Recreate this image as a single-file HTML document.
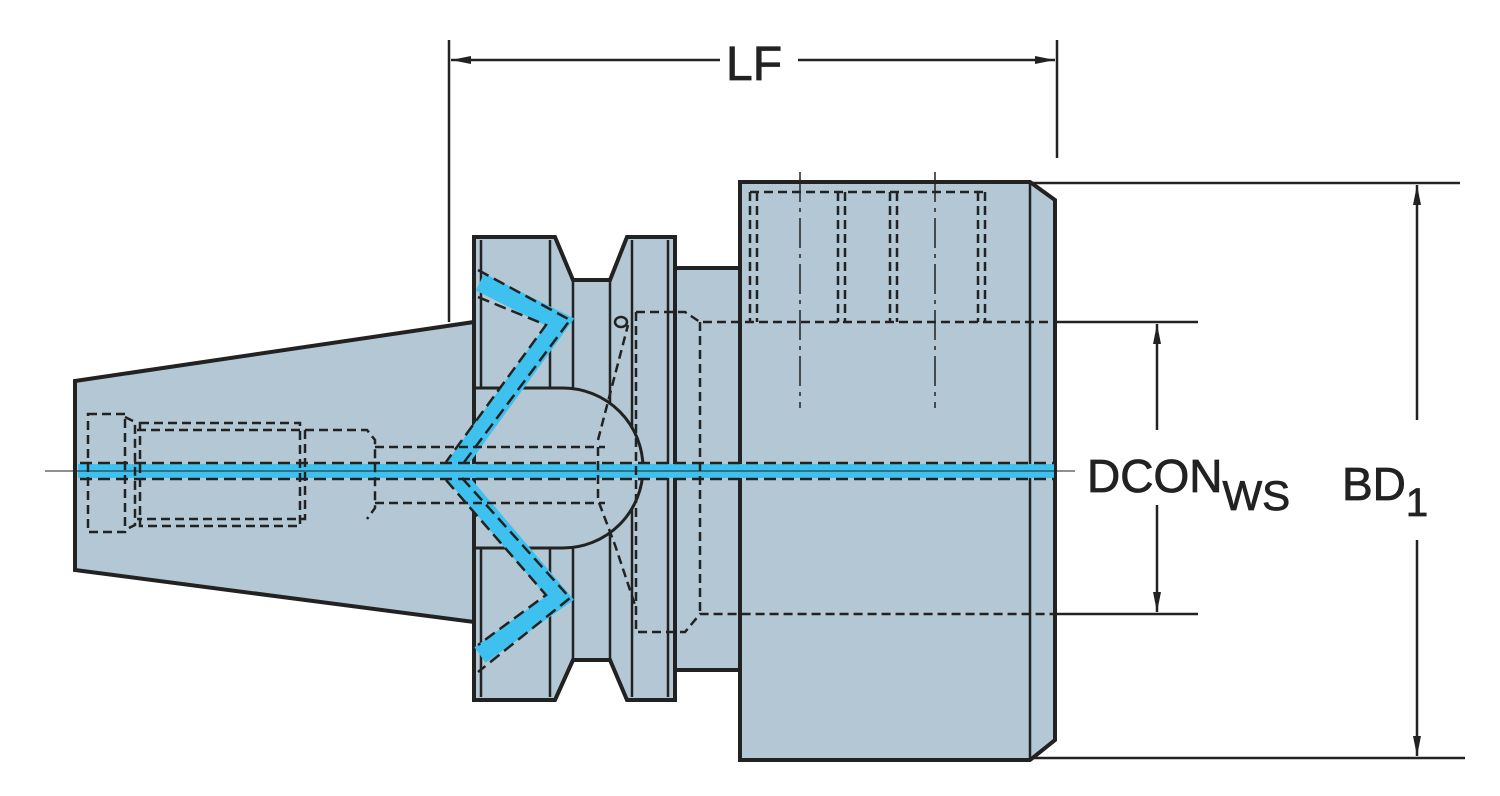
<!DOCTYPE html>
<html><head><style>body{margin:0;background:#fff}svg{display:block}</style></head><body>
<svg width="1500" height="796" viewBox="0 0 1500 796" xmlns="http://www.w3.org/2000/svg" font-family="Liberation Sans, sans-serif">
<defs>
<marker id="a" viewBox="0 0 20 10" refX="20" refY="5" markerWidth="20" markerHeight="10" markerUnits="userSpaceOnUse" orient="auto"><path d="M0,1 L20,5 L0,9 Z" fill="#222"/></marker>
</defs>
<g stroke="#222" fill="#b3c7d4" stroke-width="4">
<path d="M75,381 L474,322 L474,622 L75,570 Z"/>
<rect x="670" y="268" width="72" height="402"/>
<path d="M740,182 L1030,182 L1055,200 L1055,740 L1030,760 L740,760 Z"/>
<path d="M474,237 L555,237 L573,280 L610,280 L627,237 L675,237 L675,700 L627,700 L610,660 L573,660 L555,700 L474,700 Z"/>
</g>
<g stroke="#222" stroke-width="2.5" fill="none">
<line x1="481" y1="240" x2="481" y2="697"/>
<line x1="550" y1="240" x2="550" y2="697"/>
<line x1="573" y1="280" x2="573" y2="660"/>
<line x1="610" y1="280" x2="610" y2="660"/>
<line x1="632" y1="240" x2="632" y2="697"/>
<line x1="668" y1="240" x2="668" y2="697"/>
<line x1="1030" y1="182" x2="1030" y2="760"/>
</g>
<path d="M476,388 L563,388 A80,80 0 0 1 563,548 L476,548" fill="#b3c7d4" stroke="#222" stroke-width="3"/>
<g stroke="#3ec1ee" fill="none" stroke-linejoin="miter">
<line x1="78" y1="471" x2="1054" y2="471" stroke-width="14"/>
<polyline points="480,282 560,322 452,471 560,598 480,655" stroke-width="19"/>
</g>
<g stroke="#222" stroke-width="2.5" fill="none" stroke-dasharray="12,6">
<line x1="80" y1="463" x2="1054" y2="463"/>
<line x1="80" y1="479" x2="1054" y2="479"/>
<polyline points="478,270 570,320 462,465"/>
<polyline points="478,297 546,325 446,462"/>
<polyline points="462,478 570,598 478,672"/>
<polyline points="446,480 546,595 478,645"/>
</g>
<line x1="45" y1="471" x2="1075" y2="471" stroke="#222" stroke-width="1"/>
<g stroke="#222" stroke-width="2.5" fill="none" stroke-dasharray="9,5">
<path d="M88,414 L125,414 L125,532 L88,532 Z"/>
<path d="M125,417 L135,422 L135,525 L125,530"/>
<path d="M140,423 L300,423 L300,526 L140,526 Z"/>
<path d="M137,430 L305,430 L305,519 L137,519"/>
<path d="M305,430 L367,430 L375,440 L375,508 L367,519"/>
<path d="M375,447 L605,447 M375,503 L605,503"/>
<path d="M598,447 L598,500 L615,545 L635,605 M598,440 L628,325"/>
<path d="M636,312 L685,312 L700,322 L1055,322 M636,312 L636,632 L685,632 L700,614 L1055,614 M700,322 L700,614"/>
<path d="M750,192 L750,322 M757,192 L757,322 M750,192 L985,192 M838,192 L838,322 M845,192 L845,322 M890,192 L890,322 M897,192 L897,322 M978,192 L978,322 M985,192 L985,322"/>
</g>
<g stroke="#222" stroke-width="1.5" stroke-dasharray="30,6,4,6">
<line x1="800" y1="172" x2="800" y2="408"/>
<line x1="935" y1="172" x2="935" y2="408"/>
</g>
<ellipse cx="621" cy="322" rx="6" ry="5" fill="none" stroke="#222" stroke-width="2.5"/>
<g stroke="#222" stroke-width="2.5" fill="none">
<line x1="449" y1="40" x2="449" y2="322"/>
<line x1="1057" y1="40" x2="1057" y2="158"/>
<line x1="720" y1="60" x2="451" y2="60" marker-end="url(#a)"/>
<line x1="798" y1="60" x2="1055" y2="60" marker-end="url(#a)"/>
<line x1="1032" y1="183" x2="1460" y2="183"/>
<line x1="1032" y1="758" x2="1465" y2="758"/>
<line x1="1417" y1="420" x2="1417" y2="185" marker-end="url(#a)"/>
<line x1="1417" y1="540" x2="1417" y2="756" marker-end="url(#a)"/>
<line x1="1055" y1="322" x2="1198" y2="322"/>
<line x1="1055" y1="614" x2="1198" y2="614"/>
<line x1="1157" y1="430" x2="1157" y2="324" marker-end="url(#a)"/>
<line x1="1157" y1="505" x2="1157" y2="612" marker-end="url(#a)"/>
</g>
<g fill="#222" stroke="#222" stroke-width="0.8">
<text x="726" y="80" font-size="48">LF</text>
<text x="1087" y="492" font-size="46">DCON<tspan font-size="42" dy="18">WS</tspan></text>
<text x="1342" y="500" font-size="46">BD<tspan font-size="40" dy="16">1</tspan></text>
</g>
</svg>
</body></html>
